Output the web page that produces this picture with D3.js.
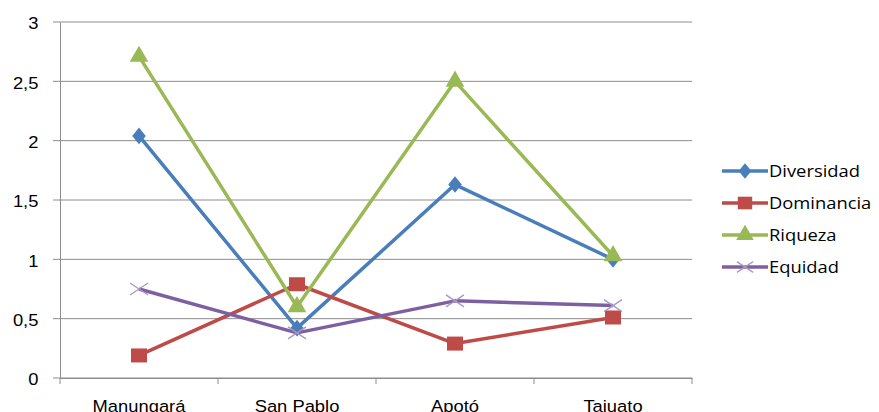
<!DOCTYPE html>
<html>
<head>
<meta charset="utf-8">
<script src="https://cdn.jsdelivr.net/npm/d3@7"></script>
<style>
  body { margin: 0; background: #fff; }
  svg { font-family: "Open Sans", "Noto Sans", sans-serif; }
</style>
</head>
<body>
<svg id="chart" width="879" height="412"></svg>
<script>
// categories and series
const sites = ["Manungará", "San Pablo", "Apotó", "Tajuato"];
const diversidad = [2.04, 0.42, 1.63, 1.00];
const dominancia = [0.19, 0.79, 0.29, 0.51];
const riqueza = [2.71, 0.60, 2.50, 1.03];
const equidad = [0.75, 0.38, 0.65, 0.61];
const yTicks = [0, 0.5, 1, 1.5, 2, 2.5, 3];

const series = [
  { name: "Diversidad", values: diversidad, color: "#4a7ebb", marker: "diamond" },
  { name: "Dominancia", values: dominancia, color: "#be4b48", marker: "square" },
  { name: "Riqueza", values: riqueza, color: "#98b954", marker: "triangle" },
  { name: "Equidad", values: equidad, color: "#7d60a0", marker: "cross" }
];

const svg = d3.select("#chart");
const plotLeft = 60, plotRight = 692, plotTop = 22, plotBottom = 378;
const fontSize = 17;
const stretch = "scale(1.08,1)"; // the original text is a little wider

let x = d3.scaleBand().domain(sites).range([plotLeft, plotRight]);
let y = d3.scaleLinear().domain([0, 3]).range([plotBottom, plotTop]);

// gridlines
svg.append("g")
  .selectAll("line").data(yTicks).enter()
  .append("line")
    .attr("x1", plotLeft - 7).attr("x2", plotRight)
    .attr("y1", d => y(d)).attr("y2", d => y(d))
    .attr("stroke", "#8c8c8c").attr("stroke-width", 1);

// y axis
let leftAxis = d3.axisLeft(y).tickValues(yTicks).tickSize(0).tickPadding(20)
  .tickFormat(d => String(d).replace(".", ","));
svg.append("g").attr("transform", `translate(${plotLeft},0)`)
  .call(leftAxis)
  .call(g => g.select(".domain").attr("stroke", "#8c8c8c"))
  .selectAll("text").attr("font-size", fontSize).attr("fill", "#000").attr("dy", "0.4em")
  .attr("transform", stretch);

// x axis
let bottomAxis = d3.axisBottom(x).tickSize(0);
const xg = svg.append("g").attr("transform", `translate(0,${plotBottom})`).call(bottomAxis);
xg.select(".domain").attr("stroke", "#8c8c8c");
xg.selectAll("text").attr("font-size", fontSize).attr("fill", "#000")
  .attr("y", 34).attr("dy", 0).attr("transform", stretch);
xg.selectAll(".bound").data(d3.range(sites.length + 1)).enter()
  .append("line").attr("class", "bound")
    .attr("x1", i => plotLeft + i * x.step()).attr("x2", i => plotLeft + i * x.step())
    .attr("y1", 0).attr("y2", 6)
    .attr("stroke", "#8c8c8c");

const cx = d => x(d) + x.bandwidth() / 2;
const line = d3.line().x((v, i) => cx(sites[i])).y(v => y(v));

function drawMarker(g, type, color, px, py, scale) {
  const s = scale || 1;
  if (type === "diamond") {
    g.append("path").attr("d", d3.symbol(d3.symbolDiamond, 110 * s)())
      .attr("transform", `translate(${px},${py}) scale(1.2,0.85)`).attr("fill", color);
  } else if (type === "square") {
    g.append("rect").attr("x", px - 8 * s).attr("y", py - 7 * s)
      .attr("width", 16 * s).attr("height", 14 * s).attr("fill", color);
  } else if (type === "triangle") {
    g.append("path").attr("d", d3.symbol(d3.symbolTriangle, 150 * s)())
      .attr("transform", `translate(${px},${py})`).attr("fill", color);
  } else {
    g.append("path").attr("d", `M${px - 9 * s},${py - 6 * s}L${px + 9 * s},${py + 6 * s}M${px - 9 * s},${py + 6 * s}L${px + 9 * s},${py - 6 * s}`)
      .attr("stroke", "#a898c4").attr("stroke-width", 1.3);
  }
}

series.forEach(s => {
  const g = svg.append("g");
  g.append("path").datum(s.values)
    .attr("d", line).attr("fill", "none")
    .attr("stroke", s.color).attr("stroke-width", 3.5).attr("stroke-linejoin", "round");
  s.values.forEach((v, i) => drawMarker(g, s.marker, s.color, cx(sites[i]), y(v)));
});

// legend
const legend = svg.append("g");
series.forEach((s, i) => {
  const ly = 171 + i * 32;
  legend.append("line").attr("x1", 722).attr("x2", 768).attr("y1", ly).attr("y2", ly)
    .attr("stroke", s.color).attr("stroke-width", 3.5);
  drawMarker(legend, s.marker, s.color, 745, ly, 0.9);
  legend.append("text").attr("transform", `translate(769,${ly}) ${stretch}`).attr("dy", "0.36em")
    .attr("font-size", fontSize).attr("fill", "#000").text(s.name);
});
</script>
</body>
</html>
